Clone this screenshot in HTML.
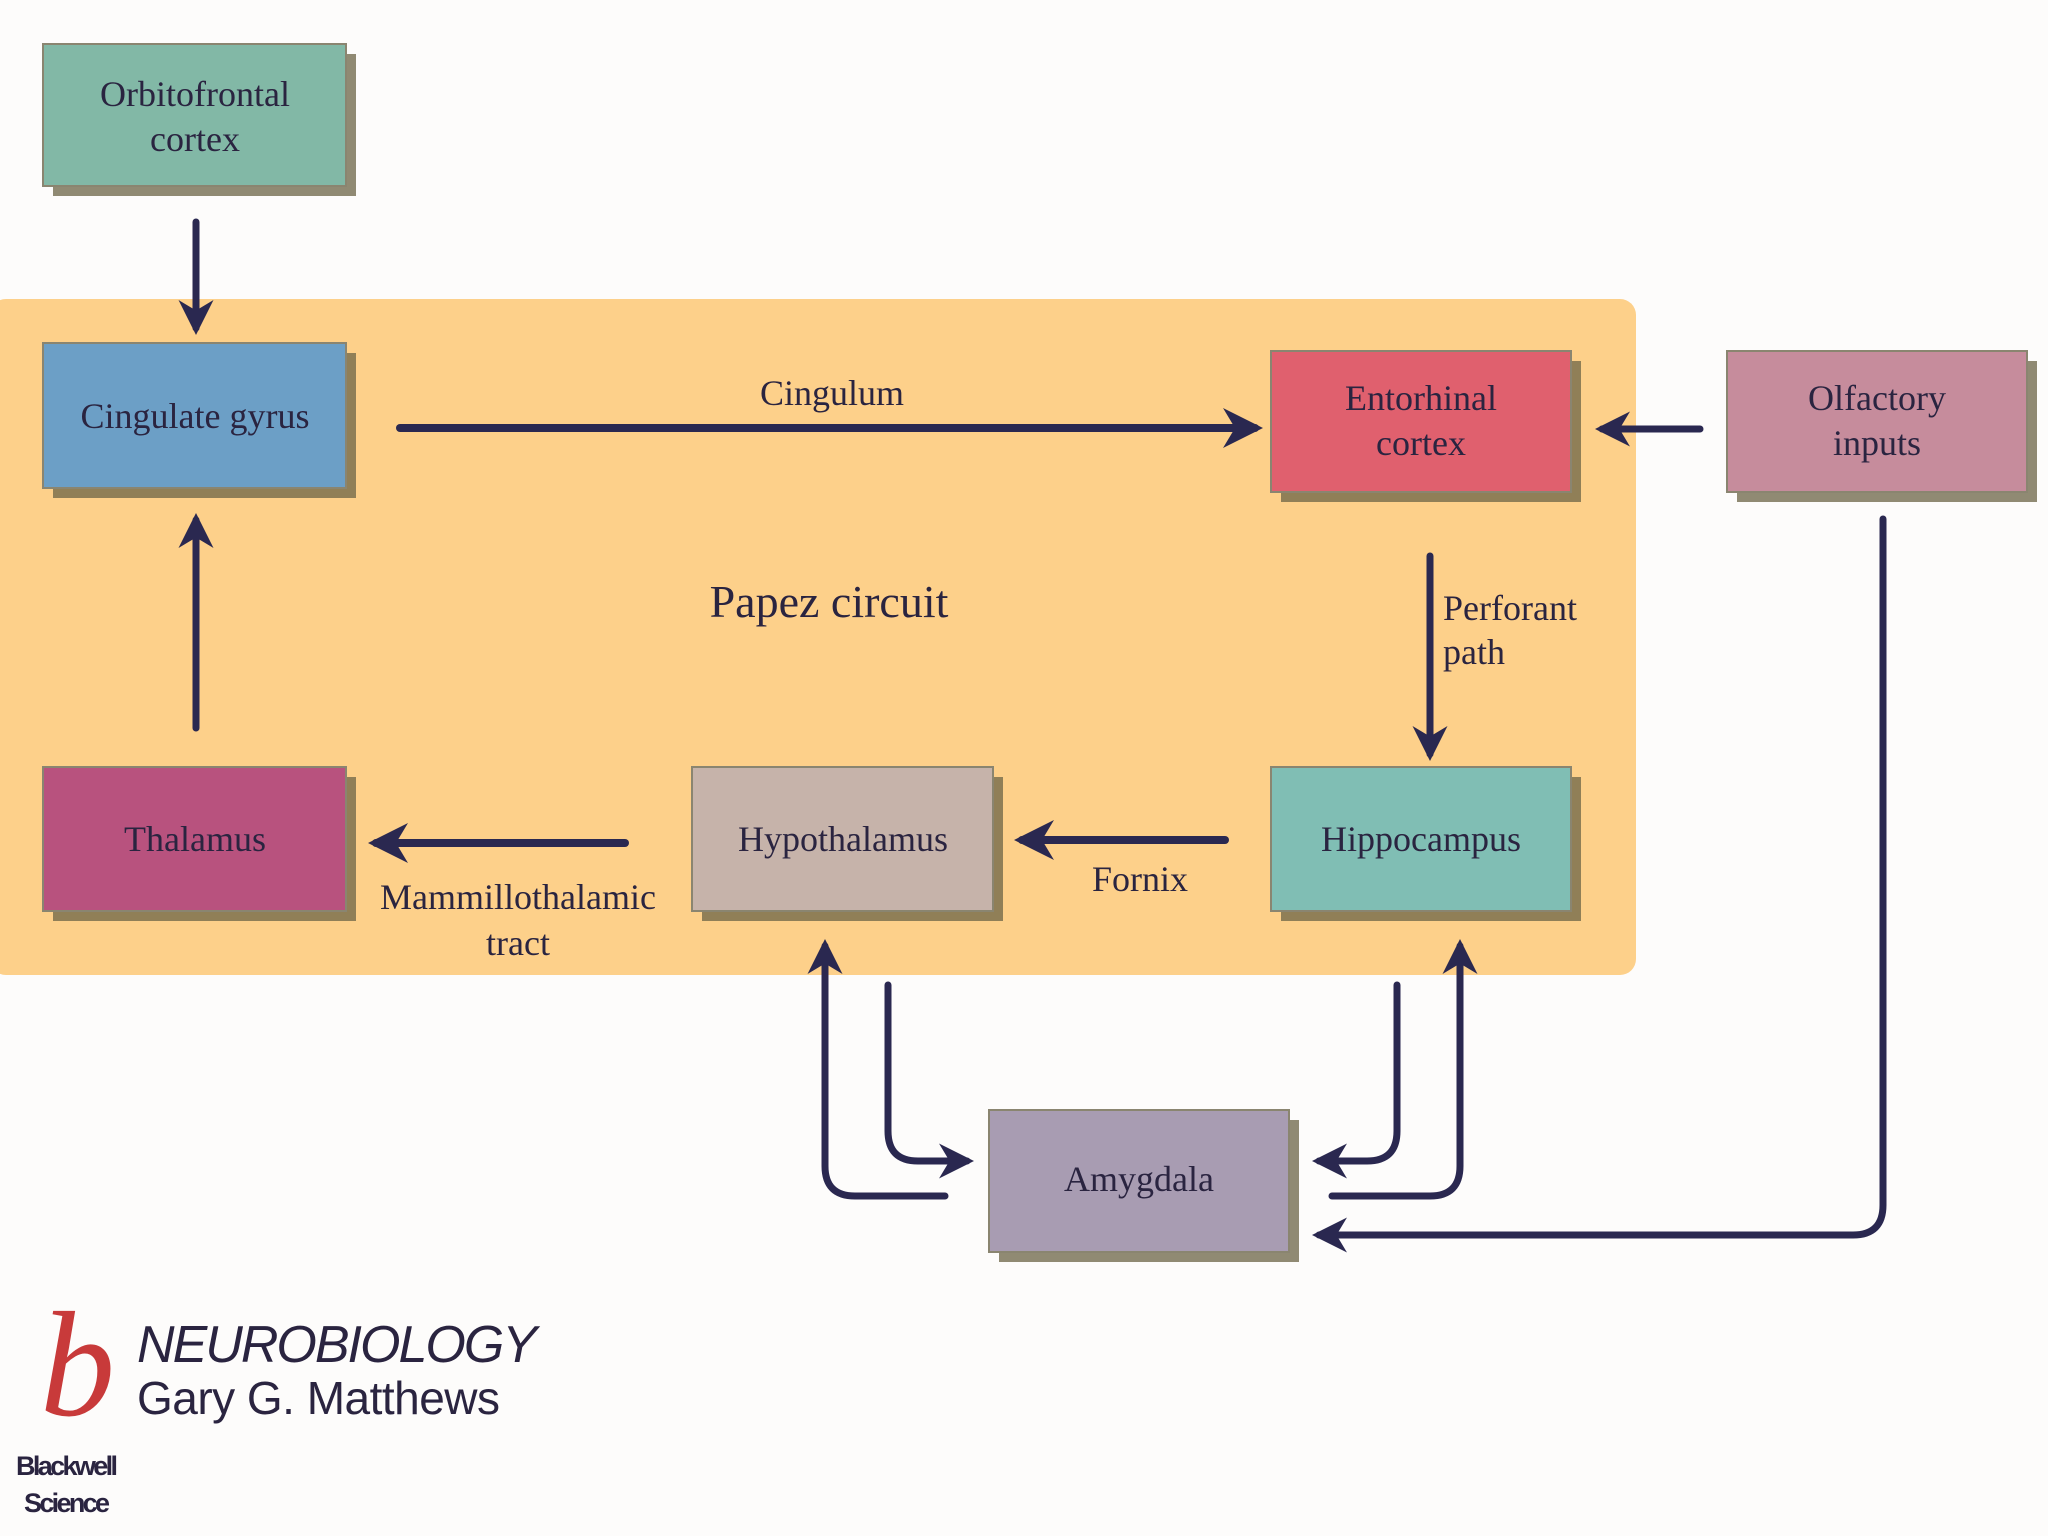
<!DOCTYPE html>
<html><head><meta charset="utf-8"><style>
html,body{margin:0;padding:0;background:#fdfcfb;}
svg{display:block}
text{font-family:"Liberation Serif",serif;fill:#2a2440;}
</style></head><body>
<svg width="2048" height="1536" viewBox="0 0 2048 1536" xmlns="http://www.w3.org/2000/svg">
<defs>
<marker id="ah" viewBox="0 0 10 10" refX="8" refY="5" markerWidth="5" markerHeight="5" orient="auto" markerUnits="strokeWidth">
<path d="M0,0 L10,5 L0,10 L3,5 Z" fill="#2a2850"/>
</marker>
</defs>
<rect x="0" y="0" width="2048" height="1536" fill="#fdfcfb"/>
<rect x="-10" y="299" width="1646" height="676" rx="16" fill="#fdd08a"/>

<g fill="#6b6445" opacity="0.75">
<rect x="53" y="54" width="303" height="142"/>
<rect x="53" y="353" width="303" height="145"/>
<rect x="1281" y="361" width="300" height="141"/>
<rect x="1737" y="361" width="300" height="141"/>
<rect x="53" y="777" width="303" height="144"/>
<rect x="702" y="777" width="301" height="144"/>
<rect x="1281" y="777" width="300" height="144"/>
<rect x="999" y="1120" width="300" height="142"/>
</g>
<g stroke="#8a8570" stroke-width="2">
<rect x="43" y="44" width="303" height="142" fill="#82b8a6"/>
<rect x="43" y="343" width="303" height="145" fill="#6c9fc6"/>
<rect x="1271" y="351" width="300" height="141" fill="#e0606e"/>
<rect x="1727" y="351" width="300" height="141" fill="#c68c9c"/>
<rect x="43" y="767" width="303" height="144" fill="#b8527e"/>
<rect x="692" y="767" width="301" height="144" fill="#c6b3aa"/>
<rect x="1271" y="767" width="300" height="144" fill="#80beb4"/>
<rect x="989" y="1110" width="300" height="142" fill="#a89cb2"/>
</g>

<g font-size="36" text-anchor="middle">
<text x="195" y="106">Orbitofrontal</text>
<text x="195" y="151">cortex</text>
<text x="195" y="428">Cingulate gyrus</text>
<text x="1421" y="410">Entorhinal</text>
<text x="1421" y="455">cortex</text>
<text x="1877" y="410">Olfactory</text>
<text x="1877" y="455">inputs</text>
<text x="195" y="851">Thalamus</text>
<text x="843" y="851">Hypothalamus</text>
<text x="1421" y="851">Hippocampus</text>
<text x="1139" y="1191">Amygdala</text>
<text x="832" y="405">Cingulum</text>
<text x="829" y="617" font-size="46">Papez circuit</text>
<text x="1140" y="891">Fornix</text>
<text x="518" y="909">Mammillothalamic</text>
<text x="518" y="955">tract</text>
</g>
<g font-size="36">
<text x="1443" y="620">Perforant</text>
<text x="1443" y="664">path</text>
</g>

<g stroke="#2a2850" fill="none" stroke-width="7" stroke-linecap="round">
<line x1="196" y1="222" x2="196" y2="328" marker-end="url(#ah)"/>
<line x1="196" y1="728" x2="196" y2="520" marker-end="url(#ah)"/>
<line x1="400" y1="428" x2="1255" y2="428" stroke-width="8" marker-end="url(#ah)"/>
<line x1="1700" y1="429" x2="1602" y2="429" marker-end="url(#ah)"/>
<line x1="1430" y1="556" x2="1430" y2="754" marker-end="url(#ah)"/>
<line x1="1225" y1="840" x2="1022" y2="840" stroke-width="8" marker-end="url(#ah)"/>
<line x1="625" y1="843" x2="376" y2="843" stroke-width="8" marker-end="url(#ah)"/>
<path d="M945,1196 L855,1196 Q825,1196 825,1166 L825,946" marker-end="url(#ah)"/>
<path d="M888,985 L888,1131 Q888,1161 918,1161 L967,1161" marker-end="url(#ah)"/>
<path d="M1397,985 L1397,1131 Q1397,1161 1367,1161 L1319,1161" marker-end="url(#ah)"/>
<path d="M1332,1196 L1430,1196 Q1460,1196 1460,1166 L1460,946" marker-end="url(#ah)"/>
<path d="M1883,519 L1883,1205 Q1883,1235 1853,1235 L1319,1235" marker-end="url(#ah)"/>
</g>

<text x="40" y="1415" font-size="150" font-style="italic" style="fill:#c83a3a">b</text>
<text x="137" y="1362" font-size="52" font-style="italic" style="font-family:'Liberation Sans',sans-serif;fill:#2a2440" textLength="400">NEUROBIOLOGY</text>
<text x="137" y="1414" font-size="46" style="font-family:'Liberation Sans',sans-serif;fill:#2a2440" textLength="363">Gary G. Matthews</text>
<text x="16" y="1475" font-size="27" font-weight="bold" style="font-family:'Liberation Sans',sans-serif;fill:#2a2440" textLength="102">Blackwell</text>
<text x="24" y="1512" font-size="27" font-weight="bold" style="font-family:'Liberation Sans',sans-serif;fill:#2a2440" textLength="86">Science</text>
</svg>
</body></html>
